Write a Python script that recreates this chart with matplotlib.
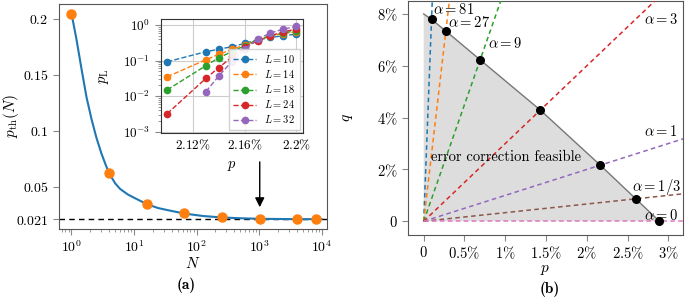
import matplotlib
matplotlib.use("Agg")
import matplotlib.pyplot as plt

# --- Données panneau (a) ---
N_points = [1, 4, 16, 64, 256, 1024, 4096, 8192]
pth_points = [0.2045, 0.062, 0.0348, 0.0262, 0.0227, 0.0212, 0.0210, 0.0210]
N_curve = [1, 1.2, 1.45, 1.74, 2.1, 2.5, 3, 3.5, 4, 5, 6, 8, 11, 16, 24, 35, 64,
           128, 256, 512, 1024, 4096, 10000]
pth_curve = [0.205, 0.182, 0.155, 0.130, 0.110, 0.094, 0.080, 0.070, 0.062, 0.053,
             0.048, 0.043, 0.039, 0.0345, 0.031, 0.029, 0.026, 0.0238, 0.0225,
             0.0218, 0.0213, 0.021, 0.021]
pth_inf = 0.021
arrow_N = 1024
arrow_from, arrow_to = 0.0747, 0.0292

# inset : p_L en fonction de p (%)
p_inset = [2.10, 2.13, 2.14, 2.15, 2.16, 2.17, 2.18, 2.19, 2.20]
L_sizes = [10, 14, 18, 24, 32]
pL = {
    10: [0.093, 0.178, 0.21, 0.246, 0.305, 0.38, 0.45, 0.50, 0.56],
    14: [0.035, 0.106, 0.15, 0.207, 0.275, 0.38, 0.49, 0.58, 0.65],
    18: [0.015, 0.072, 0.12, 0.178, 0.26, 0.38, 0.50, 0.60, 0.70],
    24: [0.0032, 0.0316, 0.064, 0.123, 0.235, 0.36, 0.50, 0.65, 0.77],
    32: [None, 0.0134, 0.037, 0.093, 0.21, 0.40, 0.60, 0.77, 0.92],
}

# --- Données panneau (b) ---
alphas = [81, 27, 9, 3, 1, 1/3, 0]
alpha_labels = ["81", "27", "9", "3", "1", "1/3", "0"]
p_thr = [0.096, 0.272, 0.692, 1.43, 2.165, 2.60, 2.89]
q_thr = [7.79, 7.34, 6.23, 4.29, 2.165, 0.867, 0.0]
q_top = 8.0

plt.rcParams['mathtext.fontset'] = 'cm'
tab = plt.rcParams['axes.prop_cycle'].by_key()['color']

fig = plt.figure(figsize=(6.85, 2.99), dpi=100)

def style_axes(ax, spine_col='#555555'):
    for s in ax.spines.values():
        s.set_color(spine_col)
        s.set_linewidth(0.8)
    ax.tick_params(which='both', direction='out', color='#888888', labelsize=10)
    ax.tick_params(which='major', length=4, width=0.8)
    ax.tick_params(which='minor', length=2.5, width=0.6)

# ---------- (a) ----------
ax = fig.add_axes([0.0861, 0.2341, 0.3912, 0.7525])
style_axes(ax)
ax.set_xscale('log')
ax.axhline(pth_inf, color='k', ls='--', lw=1, dashes=(4, 3), zorder=1)
ax.plot(N_curve, pth_curve, color=tab[0], lw=1.5, zorder=2)
ax.plot(N_points, pth_points, 'o', color=tab[1], ms=6.5, zorder=3)
ax.annotate('', xy=(arrow_N, arrow_to), xytext=(arrow_N, arrow_from),
            arrowprops=dict(arrowstyle='-|>', color='k', lw=1, mutation_scale=14))
ax.set_xlim(10**-0.2, 10**4.085)
ax.set_ylim(0.0122, 0.2134)
ax.set_yticks([0.021, 0.05, 0.1, 0.15, 0.2])
ax.set_yticklabels([r'$0.021$', r'$0.05$', r'$0.1$', r'$0.15$', r'$0.2$'])
ax.set_xticks([1, 10, 100, 1000, 10000])
ax.set_xticklabels([r'$10^{0}$', r'$10^{1}$', r'$10^{2}$', r'$10^{3}$', r'$10^{4}$'])
ax.set_ylabel(r'$p_{\rm th}(N)$', fontsize=11)
ax.set_xlabel(r'$N$', fontsize=11)
ax.yaxis.set_label_coords(-0.14, 0.5)
ax.xaxis.set_label_coords(0.5, -0.12)

# inset
axi = fig.add_axes([0.2346, 0.5562, 0.2073, 0.380])
style_axes(axi, '#333333')
axi.set_yscale('log')
axi.grid(True, which='major', color='#cccccc', lw=0.8)
axi.set_axisbelow(True)
for i, L in enumerate(L_sizes):
    xs = [p for p, v in zip(p_inset, pL[L]) if v is not None]
    ys = [v for v in pL[L] if v is not None]
    axi.plot(xs, ys, '--o', color=tab[i], lw=1, ms=4.5, label=rf'$L={L}$')
axi.set_xlim(2.095, 2.205)
axi.set_ylim(10**-3.03, 10**0.17)
axi.set_xticks([2.12, 2.16, 2.20])
axi.set_xticklabels([r'$2.12\%$', r'$2.16\%$', r'$2.2\%$'])
axi.set_yticks([1e-3, 1e-2, 1e-1, 1])
axi.set_yticklabels([r'$10^{-3}$', r'$10^{-2}$', r'$10^{-1}$', r'$10^{0}$'])
axi.tick_params(labelsize=9.5)
axi.tick_params(axis='x', which='major', length=0)
axi.set_ylabel(r'$p_{\rm L}$', fontsize=10.5)
axi.set_xlabel(r'$p$', fontsize=10.5)
axi.yaxis.set_label_coords(-0.35, 0.5)
axi.xaxis.set_label_coords(0.5, -0.22)
axi.legend(loc='lower right', fontsize=7.5, framealpha=0.9, edgecolor='#cccccc',
           handlelength=2.2, borderaxespad=0.3, labelspacing=0.3, fancybox=False)

# ---------- (b) ----------
bx = fig.add_axes([0.5952, 0.2157, 0.4015, 0.781])
style_axes(bx)
poly_p = [0] + p_thr
poly_q = [q_top] + q_thr
bx.fill(poly_p + [0], poly_q + [0], color='#dddddd', lw=0, zorder=1)
bx.plot(poly_p, poly_q, color='#777777', lw=1, zorder=2)
p_far = 4.0
for i, a in enumerate(alphas):
    bx.plot([0, p_far], [0, a * p_far], ls='--', dashes=(3, 2.2), color=tab[i],
            lw=1.1, zorder=3)
bx.plot(p_thr, q_thr, 'o', color='k', ms=5.5, zorder=4)

lab_pos = [(0.118, 8.18, 'left'), (0.302, 7.66, 'left'), (0.792, 6.87, 'left'),
           (3.12, 7.77, 'right'), (3.12, 3.45, 'right'), (3.16, 1.33, 'right'),
           (3.12, 0.23, 'right')]
for lab, (px, qy, ha) in zip(alpha_labels, lab_pos):
    bx.text(px, qy, rf'$\alpha = {lab}$', fontsize=10.5, ha=ha, va='center', zorder=5)
bx.text(0.086, 2.46, 'error correction feasible', fontfamily='cmr10', fontsize=10.5,
        ha='left', va='center', zorder=5)

bx.set_xlim(-0.196, 3.176)
bx.set_ylim(-0.51, 8.50)
bx.set_xticks([0, 0.5, 1, 1.5, 2, 2.5, 3])
bx.set_xticklabels([r'$0$', r'$0.5\%$', r'$1\%$', r'$1.5\%$', r'$2\%$', r'$2.5\%$', r'$3\%$'])
bx.set_yticks([0, 2, 4, 6, 8])
bx.set_yticklabels([r'$0$', r'$2\%$', r'$4\%$', r'$6\%$', r'$8\%$'])
bx.tick_params(labelsize=10.5)
bx.set_xlabel(r'$p$', fontsize=11)
bx.set_ylabel(r'$q$', fontsize=11)
bx.xaxis.set_label_coords(0.5, -0.118)
bx.yaxis.set_label_coords(-0.192, 0.5)

fig.text(186 / 685, 1 - 285 / 299, '(a)', fontfamily='cmb10', fontsize=11,
         ha='center', va='center')
fig.text(550 / 685, 1 - 289 / 299, '(b)', fontfamily='cmb10', fontsize=11,
         ha='center', va='center')

fig.savefig('out.png', dpi=100)
